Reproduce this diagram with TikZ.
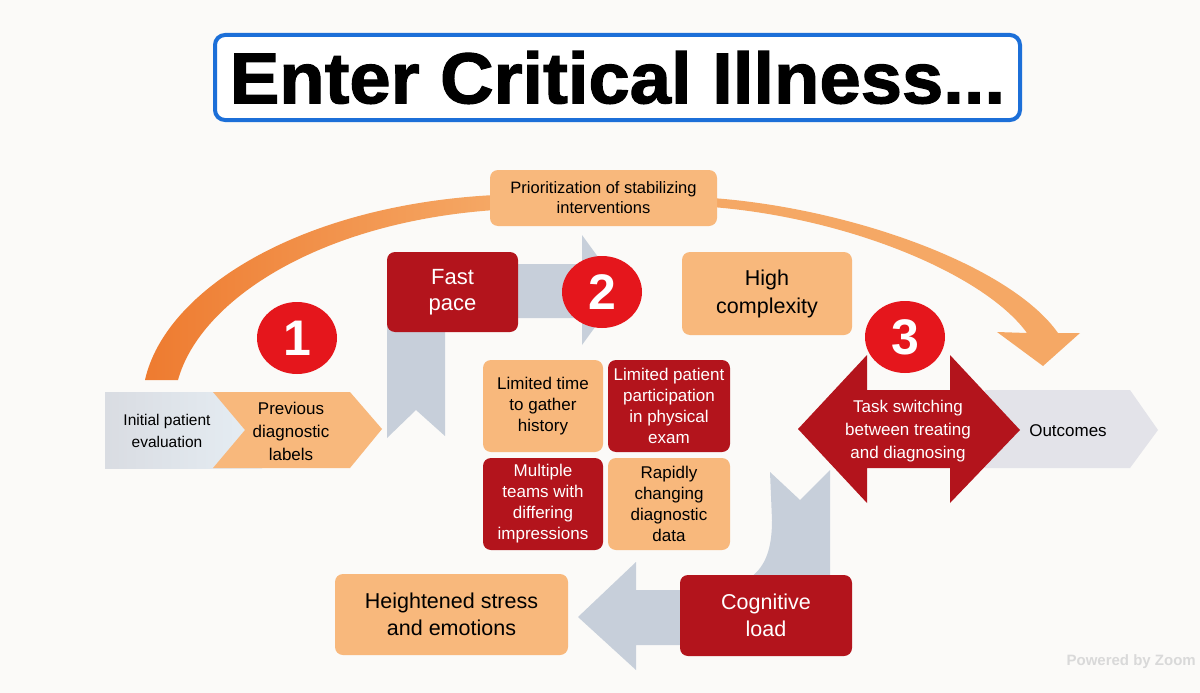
\documentclass[tikz,border=0pt]{standalone}
\usepackage{fontspec}
\usepackage{graphicx}
\setmainfont{Liberation Sans}
\newfontfamily\titlefont[FakeBold=1.6]{Liberation Sans Bold}
\usetikzlibrary{shapes.geometric}
\definecolor{darkred}{HTML}{B3141C}
\definecolor{lightor}{HTML}{F8B87C}
\definecolor{circred}{HTML}{E5161C}
\definecolor{arcdark}{HTML}{EE7B30}
\definecolor{arclight}{HTML}{F5A865}
\definecolor{grayarrow}{HTML}{C7CFDA}
\definecolor{titleblue}{HTML}{1C6FD8}
\definecolor{chevgray}{HTML}{D9DCE2}
\definecolor{chevblue}{HTML}{E6EEF4}
\definecolor{outgray}{HTML}{E3E3E9}
\definecolor{bgcol}{HTML}{FBFAF8}
\begin{document}
\begin{tikzpicture}[x=1pt,y=-1pt,
  lbox/.style={fill=lightor, rounded corners=8pt, align=center, inner sep=0pt, text=black},
  dbox/.style={fill=darkred, rounded corners=8pt, align=center, inner sep=0pt, text=white},
  circ/.style={ellipse, fill=circred, minimum width=80pt, minimum height=72pt, inner sep=0pt, text=white, font=\fontsize{50}{50}\selectfont\bfseries},
  txt/.style={align=center, inner sep=0pt},
  grayarr/.style={fill=grayarrow}
]
\useasboundingbox (0,0) rectangle (1200,693);
\clip (0,0) rectangle (1200,693);
\fill[bgcol] (0,0) rectangle (1200,693);

% title
\node[draw=titleblue, line width=4pt, rounded corners=10pt, fill=white, minimum width=805pt, minimum height=85pt, inner sep=0pt,
      font=\fontsize{70}{70}\titlefont] (title) at (617.5,77.5) {\scalebox{1.06}[1.03]{Enter Critical Illness...}};

% orange arc, left part
\shade[left color=arcdark, right color=arclight]
  (145,380) .. controls (165,290) and (300,205) .. (495,195)
  -- (495,210) .. controls (320,222) and (200,300) .. (178,380) -- cycle;
% orange arc, right part with arrowhead
\fill[arclight]
  (712,198) .. controls (850,208) and (1010,265) .. (1058,333)
  -- (1080,333) -- (1043,366) -- (997,332) -- (1027,333)
  .. controls (985,275) and (850,218) .. (712,207) -- cycle;

% prioritization box
\node[lbox, minimum width=227pt, minimum height=56pt, font=\fontsize{16.5}{20}\selectfont] (prio) at (603.5,198) {Prioritization of stabilizing\\interventions};

% gray bent arrow (fast pace)
\fill[grayarr] (387,438) -- (387,264) -- (582,264) -- (582,235) -- (622,290) -- (582,345) -- (582,318)
  -- (445,318) -- (445,436) -- (416,410) -- cycle;

% gray curved arrow (cognitive load)
\fill[grayarr] (830,470) -- (830,645) -- (636,645) -- (636,670) -- (578,617) -- (636,562) -- (636,590)
  -- (700,590) .. controls (760,590) and (772,560) .. (772,520) -- (770,472) -- (800,500) -- cycle;

% left chevrons
\shade[left color=chevgray, right color=chevblue] (105,392) rectangle (262,468);
\fill[lightor] (213,392) -- (350,392) -- (382,429) -- (350,468) -- (213,468) -- (245,430) -- cycle;
\node[txt, font=\fontsize{15.5}{22}\selectfont] (init) at (167,431) {Initial patient\\evaluation};
\node[txt, font=\fontsize{17}{23}\selectfont] (prev) at (291,431) {Previous\\diagnostic\\labels};

% outcomes chevron
\fill[outgray] (985,390) -- (1130,390) -- (1158,430) -- (1130,468) -- (985,468) -- cycle;
\node[txt, font=\fontsize{17}{20}\selectfont] (out) at (1068,431) {Outcomes};

% task switching double arrow
\fill[darkred] (798,429) -- (867,355) -- (867,390) -- (950,390) -- (950,355) -- (1020,430)
  -- (950,503) -- (950,468) -- (867,468) -- (867,503) -- cycle;
\node[txt, text=white, font=\fontsize{17}{23}\selectfont] (task) at (908,431) {Task switching\\between treating\\and diagnosing};

% boxes
\node[dbox, minimum width=131pt, minimum height=80pt, font=\fontsize{22}{26}\selectfont] (fast) at (452.5,292) {Fast\\pace};
\node[lbox, minimum width=170pt, minimum height=83pt, font=\fontsize{21.5}{28}\selectfont] (high) at (767,293.5) {High\\complexity};

\node[lbox, minimum width=120pt, minimum height=92pt, font=\fontsize{17}{21}\selectfont] (ltime) at (543,406) {Limited time\\to gather\\history};
\node[dbox, minimum width=122pt, minimum height=92pt, font=\fontsize{17}{21}\selectfont] (lpat) at (669,406) {Limited patient\\participation\\in physical\\exam};
\node[dbox, minimum width=120pt, minimum height=92pt, font=\fontsize{17}{21}\selectfont] (mult) at (543,504) {Multiple\\teams with\\differing\\impressions};
\node[lbox, minimum width=122pt, minimum height=92pt, font=\fontsize{17}{21}\selectfont] (rapid) at (669,504) {Rapidly\\changing\\diagnostic\\data};

\node[lbox, minimum width=233pt, minimum height=81pt, font=\fontsize{21.5}{27}\selectfont] (stress) at (451.5,614.5) {Heightened stress\\and emotions};
\node[dbox, minimum width=172pt, minimum height=81pt, font=\fontsize{21.5}{27}\selectfont] (cog) at (766,615.5) {Cognitive\\load};

% numbered circles
\node[circ] (c1) at (297,338) {1};
\node[circ] (c2) at (602,292) {2};
\node[circ] (c3) at (905,337) {3};

% watermark
\node[anchor=east, inner sep=0pt, text=black!15, font=\fontsize{15}{15}\selectfont\bfseries] (wm) at (1196,662) {Powered by Zoom};
\end{tikzpicture}
\end{document}
